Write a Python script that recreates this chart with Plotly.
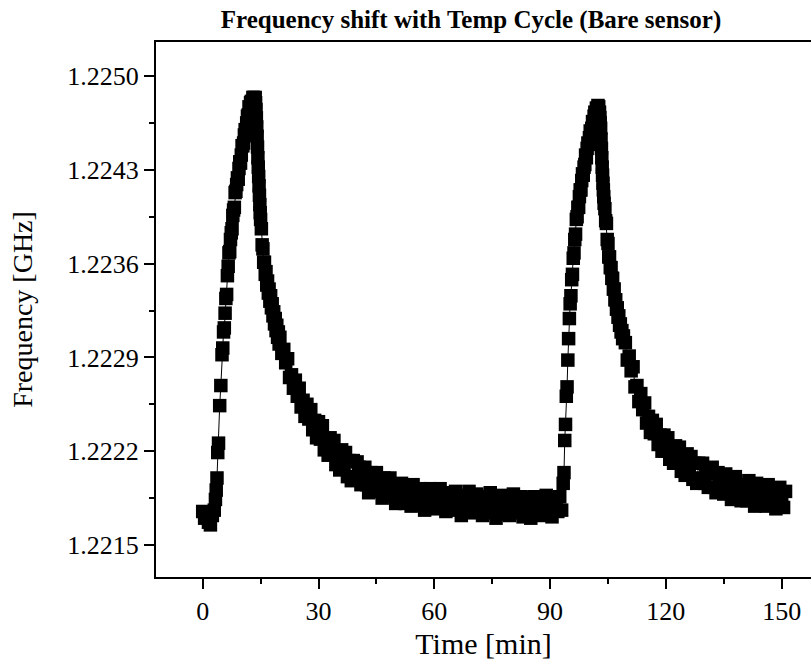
import plotly.graph_objects as go

# ---- data ----
# cycle 1: baseline, heating rise
time_rise1 = [0.0, 0.5, 1.0, 1.5, 2.0, 2.5, 3.0, 3.3, 3.5, 3.7, 3.9, 4.1, 4.4, 4.7,
              5.0, 5.2, 5.4, 5.6, 5.8, 6.0, 6.2, 6.4, 6.6, 6.8, 7.0, 7.2, 7.4, 7.6, 7.8,
              8.0, 8.2, 8.4, 8.6, 8.8, 9.0, 9.2, 9.4, 9.6, 9.8, 10.0, 10.2, 10.4, 10.6, 10.8,
              11.0, 11.2, 11.4, 11.6, 11.8, 12.0, 12.2, 12.4, 12.6, 12.8, 13.0, 13.2, 13.4, 13.6]
freq_rise1 = [1.22175, 1.22170, 1.22173, 1.22167, 1.22165, 1.22172, 1.22176, 1.22184, 1.22191,
              1.22200, 1.22219, 1.22226, 1.22254, 1.22269,
              1.22292, 1.22297, 1.22309, 1.22312, 1.22323, 1.22334, 1.22337, 1.22351, 1.22358,
              1.22368, 1.22369, 1.22378, 1.22383, 1.22386, 1.22396, 1.22400, 1.22402, 1.22413,
              1.22414, 1.22419, 1.22424, 1.22423, 1.22431, 1.22436, 1.22435, 1.22441, 1.22448,
              1.22448, 1.22450, 1.22456, 1.22460, 1.22459, 1.22465, 1.22470, 1.22471, 1.22477,
              1.22475, 1.22480, 1.22481, 1.22481, 1.22484, 1.22484, 1.22483, 1.22484]

# cycle 1: cooling decay
time_decay1 = [13.7, 13.8, 13.9, 14.0, 14.1, 14.2, 14.3, 14.4, 14.5, 14.6, 14.7, 14.8, 14.9, 15.0,
               15.2, 15.4, 15.6, 15.8, 16.0, 16.2, 16.4, 16.6, 16.8, 17.0, 17.2, 17.4, 17.6, 17.8,
               18.0, 18.2, 18.4, 18.6, 18.8, 19.0, 19.2, 19.4, 19.6, 19.8,
               20.0, 20.5, 21.0, 21.5, 22.0, 22.5, 23.0, 23.5, 24.0, 24.5, 25.0, 25.5, 26.0, 26.5,
               27.0, 27.5, 28.0, 28.5, 29.0, 29.5, 30.0, 30.5, 31.0, 31.5, 32.0, 32.5, 33.0, 33.5,
               34.0, 34.5, 35.0, 35.5, 36.0, 36.5, 37.0, 37.5, 38.0, 38.5, 39.0, 39.5, 40.0]
freq_decay1 = [1.22480, 1.22475, 1.22469, 1.22462, 1.22455, 1.22447, 1.22439, 1.22432, 1.22425,
               1.22418, 1.22411, 1.22404, 1.22398, 1.22393,
               1.22386, 1.22374, 1.22371, 1.22361, 1.22361, 1.22352, 1.22354, 1.22344, 1.22347,
               1.22338, 1.22341, 1.22332, 1.22336, 1.22327, 1.22330, 1.22321, 1.22324, 1.22315,
               1.22319, 1.22310, 1.22314, 1.22305, 1.22309, 1.22300,
               1.22305, 1.22293, 1.22296, 1.22286, 1.22289, 1.22275, 1.22277, 1.22267, 1.22273,
               1.22261, 1.22267, 1.22253, 1.22258, 1.22246, 1.22255, 1.22244, 1.22251, 1.22236,
               1.22243, 1.22230, 1.22242, 1.22229, 1.22239, 1.22221, 1.22229, 1.22217, 1.22230,
               1.22218, 1.22228, 1.22210, 1.22220, 1.22206, 1.22221, 1.22210, 1.22219, 1.22201,
               1.22213, 1.22198, 1.22213, 1.22200, 1.22212]

# cycle 1: settled baseline
time_base1 = [40.5, 41.0, 41.5, 42.0, 42.5, 43.0, 43.5, 44.0, 44.5, 45.0, 45.5, 46.0, 46.5, 47.0,
              47.5, 48.0, 48.5, 49.0, 49.5, 50.0, 50.5, 51.0, 51.5, 52.0, 52.5, 53.0, 53.5, 54.0,
              54.5, 55.0, 55.5, 56.0, 56.5, 57.0, 57.5, 58.0, 58.5, 59.0, 59.5, 60.0, 60.5, 61.0,
              61.5, 62.0, 62.5, 63.0, 63.5, 64.0, 64.5, 65.0, 65.5, 66.0, 66.5, 67.0, 67.5, 68.0,
              68.5, 69.0, 69.5, 70.0, 70.5, 71.0, 71.5, 72.0, 72.5, 73.0, 73.5, 74.0, 74.5, 75.0,
              75.5, 76.0, 76.5, 77.0, 77.5, 78.0, 78.5, 79.0, 79.5, 80.0, 80.5, 81.0, 81.5, 82.0,
              82.5, 83.0, 83.5, 84.0, 84.5, 85.0, 85.5, 86.0, 86.5, 87.0, 87.5, 88.0, 88.5, 89.0,
              89.5, 90.0, 90.5, 91.0, 91.5, 92.0, 92.5, 93.0]
freq_base1 = [1.22208, 1.22195, 1.22203, 1.22208, 1.22195, 1.22189, 1.22204, 1.22198, 1.22190,
              1.22204, 1.22192, 1.22198, 1.22185, 1.22200, 1.22192, 1.22187, 1.22200, 1.22189,
              1.22193, 1.22181, 1.22195, 1.22185, 1.22196, 1.22187, 1.22181, 1.22192, 1.22189,
              1.22179, 1.22195, 1.22183, 1.22187, 1.22180, 1.22192, 1.22189, 1.22176, 1.22188,
              1.22182, 1.22192, 1.22179, 1.22190, 1.22177, 1.22183, 1.22192, 1.22179, 1.22185,
              1.22175, 1.22187, 1.22189, 1.22179, 1.22176, 1.22190, 1.22181, 1.22185, 1.22172,
              1.22187, 1.22179, 1.22184, 1.22190, 1.22174, 1.22182, 1.22175, 1.22188, 1.22177,
              1.22186, 1.22172, 1.22182, 1.22185, 1.22174, 1.22189, 1.22176, 1.22179, 1.22170,
              1.22186, 1.22182, 1.22177, 1.22187, 1.22173, 1.22183, 1.22172, 1.22180, 1.22188,
              1.22174, 1.22181, 1.22176, 1.22186, 1.22171, 1.22184, 1.22179, 1.22185, 1.22170,
              1.22181, 1.22186, 1.22174, 1.22177, 1.22185, 1.22172, 1.22180, 1.22187, 1.22173,
              1.22182, 1.22171, 1.22179, 1.22184, 1.22175, 1.22186, 1.22176]

# cycle 2: heating rise
time_rise2 = [93.4, 93.6, 93.8, 94.0, 94.2, 94.4, 94.6, 94.8,
              95.0, 95.2, 95.4, 95.6, 95.8, 96.0, 96.2, 96.4, 96.6, 96.8, 97.0, 97.2, 97.4, 97.6,
              97.8, 98.0, 98.2, 98.4, 98.6, 98.8, 99.0, 99.2, 99.4, 99.6, 99.8, 100.0, 100.2,
              100.4, 100.6, 100.8, 101.0, 101.2, 101.4, 101.6, 101.8, 102.0, 102.2, 102.4]
freq_rise2 = [1.22196, 1.22204, 1.22228, 1.22240, 1.22261, 1.22268, 1.22288, 1.22304,
              1.22319, 1.22330, 1.22336, 1.22348, 1.22352, 1.22364, 1.22368, 1.22378, 1.22382,
              1.22393, 1.22395, 1.22402, 1.22402, 1.22410, 1.22415, 1.22415, 1.22422, 1.22427,
              1.22426, 1.22432, 1.22434, 1.22441, 1.22439, 1.22446, 1.22450, 1.22449, 1.22454,
              1.22459, 1.22457, 1.22461, 1.22466, 1.22464, 1.22470, 1.22473, 1.22472, 1.22476,
              1.22476, 1.22478]

# cycle 2: cooling decay
time_decay2 = [102.6, 102.8, 102.9, 103.0, 103.1, 103.2, 103.3, 103.4, 103.5, 103.6, 103.7,
               103.8, 103.9, 104.0, 104.2, 104.4, 104.6, 104.8, 105.0, 105.2, 105.4, 105.6,
               105.8, 106.0, 106.2, 106.4, 106.6, 106.8, 107.0, 107.2, 107.4, 107.6, 107.8,
               108.0, 108.2, 108.4, 108.6, 108.8, 109.0,
               109.5, 110.0, 110.5, 111.0, 111.5, 112.0, 112.5, 113.0, 113.5, 114.0, 114.5,
               115.0, 115.5, 116.0, 116.5, 117.0, 117.5, 118.0, 118.5, 119.0, 119.5, 120.0,
               120.5, 121.0, 121.5, 122.0, 122.5, 123.0, 123.5, 124.0, 124.5, 125.0, 125.5,
               126.0, 126.5, 127.0, 127.5, 128.0, 128.5, 129.0, 129.5, 130.0]
freq_decay2 = [1.22477, 1.22473, 1.22469, 1.22465, 1.22461, 1.22453, 1.22446, 1.22439, 1.22432,
               1.22426, 1.22420, 1.22415, 1.22410, 1.22405, 1.22401, 1.22392, 1.22390, 1.22378,
               1.22375, 1.22365, 1.22365, 1.22357, 1.22357, 1.22349, 1.22349, 1.22341, 1.22341,
               1.22333, 1.22333, 1.22326, 1.22327, 1.22320, 1.22321, 1.22314, 1.22315, 1.22309,
               1.22310, 1.22304, 1.22306,
               1.22301, 1.22288, 1.22291, 1.22280, 1.22283, 1.22268, 1.22269, 1.22257, 1.22263,
               1.22251, 1.22256, 1.22241, 1.22246, 1.22234, 1.22243, 1.22233, 1.22240, 1.22225,
               1.22232, 1.22220, 1.22232, 1.22220, 1.22230, 1.22214, 1.22222, 1.22211, 1.22224,
               1.22213, 1.22223, 1.22205, 1.22216, 1.22202, 1.22218, 1.22207, 1.22216, 1.22199,
               1.22211, 1.22196, 1.22211, 1.22200, 1.22211, 1.22196]

# cycle 2: settled baseline
time_base2 = [130.5, 131.0, 131.5, 132.0, 132.5, 133.0, 133.5, 134.0, 134.5, 135.0, 135.5,
              136.0, 136.5, 137.0, 137.5, 138.0, 138.5, 139.0, 139.5, 140.0, 140.5, 141.0,
              141.5, 142.0, 142.5, 143.0, 143.5, 144.0, 144.5, 145.0, 145.5, 146.0, 146.5,
              147.0, 147.5, 148.0, 148.5, 149.0, 149.5, 150.0, 150.5, 151.0]
freq_base2 = [1.22207, 1.22193, 1.22203, 1.22208, 1.22193, 1.22189, 1.22204, 1.22195, 1.22200,
              1.22188, 1.22203, 1.22191, 1.22195, 1.22184, 1.22199, 1.22201, 1.22186, 1.22193,
              1.22183, 1.22195, 1.22193, 1.22183, 1.22198, 1.22185, 1.22189, 1.22179, 1.22196,
              1.22192, 1.22181, 1.22194, 1.22184, 1.22179, 1.22195, 1.22187, 1.22181, 1.22192,
              1.22177, 1.22188, 1.22193, 1.22181, 1.22178, 1.22190]

y_tick_values = [1.2215, 1.2222, 1.2229, 1.2236, 1.2243, 1.2250]
y_tick_labels = ["1.2215", "1.2222", "1.2229", "1.2236", "1.2243", "1.2250"]
x_tick_values = [0, 30, 60, 90, 120, 150]

time_min = time_rise1 + time_decay1 + time_base1 + time_rise2 + time_decay2 + time_base2
freq_ghz = freq_rise1 + freq_decay1 + freq_base1 + freq_rise2 + freq_decay2 + freq_base2

FONT = "Liberation Serif"

fig = go.Figure()
fig.add_trace(go.Scatter(
    x=time_min, y=freq_ghz, mode="lines+markers",
    line=dict(color="black", width=1),
    marker=dict(symbol="square", size=13.5, color="black", line=dict(width=0)),
    showlegend=False,
))

fig.update_layout(
    width=811, height=668,
    margin=dict(l=156, r=0, t=42, b=91),
    paper_bgcolor="white", plot_bgcolor="white",
    font=dict(family=FONT, size=25, color="black"),
    title=dict(text="<b>Frequency shift with Temp Cycle (Bare sensor)</b>",
               font=dict(family=FONT, size=25, color="black"),
               x=471 / 811, xref="container", xanchor="center",
               y=1 - 19 / 668, yref="container", yanchor="middle"),
)

fig.update_xaxes(
    range=[-12.1, 157.6],
    tickmode="array", tickvals=x_tick_values,
    ticks="outside", ticklen=10, tickwidth=1.5, tickcolor="black",
    showline=True, linewidth=2, linecolor="black", mirror=True,
    showgrid=False, zeroline=False,
    minor=dict(tickmode="linear", tick0=15, dtick=30, ticks="outside", ticklen=5,
               tickwidth=1.5, tickcolor="black", showgrid=False),
    title=dict(text="Time [min]", standoff=8, font=dict(family=FONT, size=30)),
    tickfont=dict(family=FONT, size=26),
)
fig.update_yaxes(
    range=[1.221261, 1.225254],
    tickmode="array", tickvals=y_tick_values, ticktext=y_tick_labels,
    ticks="outside", ticklen=10, tickwidth=1.5, tickcolor="black",
    showline=True, linewidth=2, linecolor="black", mirror=False,
    showgrid=False, zeroline=False,
    minor=dict(tickmode="linear", tick0=1.22185, dtick=0.0007, ticks="outside", ticklen=5,
               tickwidth=1.5, tickcolor="black", showgrid=False),
    title=dict(text="Frequency [GHz]", standoff=26, font=dict(family=FONT, size=28)),
    tickfont=dict(family=FONT, size=26),
)

fig.write_html("out.html")
